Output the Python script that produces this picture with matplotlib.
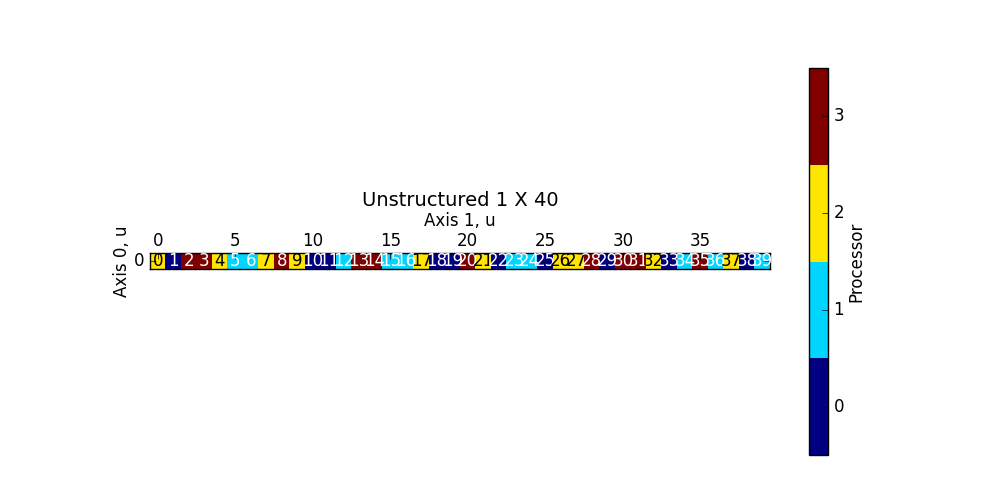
import numpy as np
import matplotlib
matplotlib.use('Agg')
import matplotlib.pyplot as plt

# processor owning each cell of the 1 x 40 grid
procs = [2, 0, 3, 3, 2, 1, 1, 2, 3, 2,
         0, 0, 1, 3, 3, 1, 1, 2, 0, 0,
         3, 2, 0, 1, 1, 0, 2, 2, 3, 0,
         3, 3, 2, 0, 1, 3, 1, 2, 0, 1]
cell_ids = list(range(40))
xticks = [0, 5, 10, 15, 20, 25, 30, 35]
cbar_ticks = [0, 1, 2, 3]

plt.style.use('classic')
plt.rcParams['font.family'] = 'DejaVu Sans'

grid = np.array(procs).reshape(1, -1)
cmap = plt.get_cmap('jet', 4)

fig = plt.figure(figsize=(10, 5), dpi=100, facecolor='white')
ax = fig.add_axes([0.15, 0.462, 0.62, 0.032])
im = ax.imshow(grid, cmap=cmap, vmin=-0.5, vmax=3.5, interpolation='nearest', aspect='auto')

# cell numbers, black on yellow, white elsewhere
for i, p in zip(cell_ids, procs):
    col = 'black' if p == 2 else 'white'
    ax.text(i, 0, str(i), ha='center', va='center', color=col, fontsize=12)

ax.xaxis.tick_top()
ax.xaxis.set_label_position('top')
ax.set_xticks(xticks)
ax.set_yticks([0])
ax.tick_params(axis='x', pad=2)
ax.set_xlabel('Axis 1, u', fontsize=12, labelpad=4.5)
ax.set_ylabel('Axis 0, u', fontsize=12, labelpad=2)
ax.set_title('Unstructured 1 X 40', fontsize=14, pad=34)
ax.tick_params(labelsize=12)

cax = fig.add_axes([0.809, 0.09, 0.019, 0.774])
cb = fig.colorbar(im, cax=cax, ticks=cbar_ticks)
cb.set_label('Processor', fontsize=12, labelpad=2)
cb.ax.tick_params(labelsize=12)

fig.savefig('out.png', dpi=100, facecolor='white')
